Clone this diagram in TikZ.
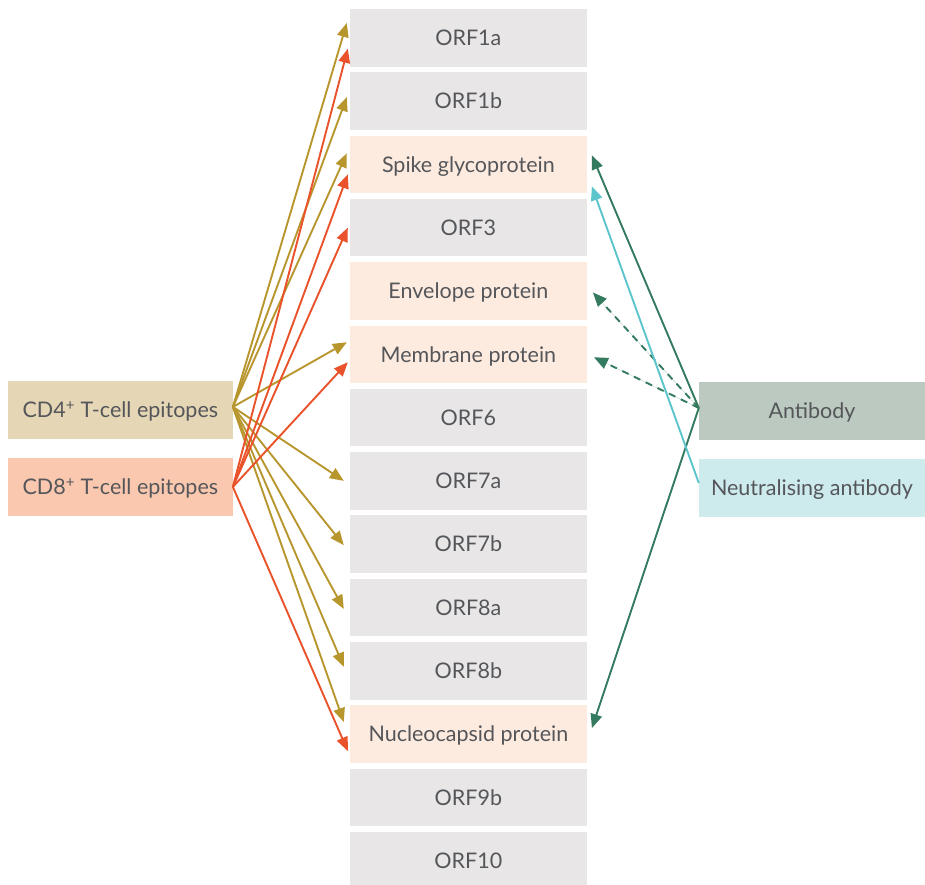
\documentclass[tikz,border=0pt]{standalone}
\usepackage{fontspec}
\setmainfont{Lato}
\usetikzlibrary{arrows.meta,calc}
\definecolor{txt}{HTML}{55565A}
\definecolor{grayb}{HTML}{E8E6E7}
\definecolor{peach}{HTML}{FDEBDF}
\definecolor{cdfour}{HTML}{E5D7B5}
\definecolor{cdeight}{HTML}{F9C8AF}
\definecolor{abfill}{HTML}{BCC9C0}
\definecolor{nabfill}{HTML}{CDEAEC}
\definecolor{gold}{HTML}{B8962E}
\definecolor{redar}{HTML}{E9522A}
\definecolor{dgreen}{HTML}{347A5E}
\definecolor{cyanar}{HTML}{5BC5CB}
\tikzset{
  protbox/.style={rectangle, inner sep=0pt, minimum width=236.7pt, minimum height=57.5pt,
    font=\fontsize{21.5}{24}\selectfont, text=txt, text height=15.5pt, text depth=0pt},
  greybox/.style={protbox, fill=grayb},
  peachbox/.style={protbox, fill=peach},
  sidebox/.style={rectangle, inner sep=0pt, minimum width=225pt, minimum height=57.5pt,
    font=\fontsize{21.5}{24}\selectfont, text=txt, text height=15.5pt, text depth=0pt},
  conn/.style={line width=1.9pt, -{Triangle[length=14pt,width=11.5pt]}},
  goldarrow/.style={conn, draw=gold, fill=gold},
  redarrow/.style={conn, draw=redar, fill=redar},
  greenarrow/.style={conn, draw=dgreen, fill=dgreen},
  cyanarrow/.style={conn, draw=cyanar, fill=cyanar},
  dasharrow/.style={conn, draw=dgreen, fill=dgreen, dash pattern=on 7pt off 6pt},
}
\begin{document}
\begin{tikzpicture}[x=1pt,y=-1pt]
\useasboundingbox (0,0) rectangle (925,884);
\clip (0,0) rectangle (925,884);
% central column
\node[greybox]  (orf1a) at (468.35, 37.75) {ORF1a};
\node[greybox]  (orf1b) at (468.35, 101.05) {ORF1b};
\node[peachbox] (spike) at (468.35, 164.35) {Spike glycoprotein};
\node[greybox]  (orf3)  at (468.35, 227.65) {ORF3};
\node[peachbox] (env)   at (468.35, 290.95) {Envelope protein};
\node[peachbox] (mem)   at (468.35, 354.25) {Membrane protein};
\node[greybox]  (orf6)  at (468.35, 417.55) {ORF6};
\node[greybox]  (orf7a) at (468.35, 480.85) {ORF7a};
\node[greybox]  (orf7b) at (468.35, 544.15) {ORF7b};
\node[greybox]  (orf8a) at (468.35, 607.45) {ORF8a};
\node[greybox]  (orf8b) at (468.35, 670.75) {ORF8b};
\node[peachbox] (nuc)   at (468.35, 734.05) {Nucleocapsid protein};
\node[greybox]  (orf9b) at (468.35, 797.35) {ORF9b};
\node[greybox]  (orf10) at (468.35, 860.65) {ORF10};
% side boxes
\node[sidebox, fill=cdfour, minimum width=224.7pt] (cd4) at (120.35, 409.9) {CD4\textsuperscript{+} T-cell epitopes};
\node[sidebox, fill=cdeight, minimum width=224.7pt] (cd8) at (120.35, 486.9) {CD8\textsuperscript{+} T-cell epitopes};
\node[sidebox, fill=abfill, minimum width=226pt] (ab) at (812, 411) {Antibody};
\node[sidebox, fill=nabfill, minimum width=226pt] (nab) at (812, 488) {Neutralising antibody};
% source points
\coordinate (s4) at ([yshift=3pt]cd4.east);
\coordinate (s8) at (cd8.east);
\coordinate (sab) at ([yshift=3pt]ab.west);
\coordinate (snab) at ([yshift=5pt]nab.west);
% CD4 arrows
\draw[goldarrow] (s4) -- ([xshift=-3pt,yshift=14.75pt]orf1a.west);
\draw[goldarrow] (s4) -- ([xshift=-3pt,yshift=4pt]orf1b.west);
\draw[goldarrow] (s4) -- ([xshift=-3pt,yshift=11pt]spike.west);
\draw[goldarrow] (s4) -- ([xshift=-3pt,yshift=12pt]mem.west);
\draw[goldarrow] (s4) -- ([xshift=-6pt,yshift=0pt]orf7a.west);
\draw[goldarrow] (s4) -- ([xshift=-6pt,yshift=-1pt]orf7b.west);
\draw[goldarrow] (s4) -- ([xshift=-6pt,yshift=-1.5pt]orf8a.west);
\draw[goldarrow] (s4) -- ([xshift=-6pt,yshift=4pt]orf8b.west);
\draw[goldarrow] (s4) -- ([xshift=-6pt,yshift=12pt]nuc.west);
% CD8 arrows
\draw[redarrow] (s8) -- ([xshift=-2pt,yshift=-11pt]orf1a.west);
\draw[redarrow] (s8) -- ([xshift=-2pt,yshift=-10pt]spike.west);
\draw[redarrow] (s8) -- ([xshift=-2pt,yshift=0pt]orf3.west);
\draw[redarrow] (s8) -- ([xshift=-2pt,yshift=-8pt]mem.west);
\draw[redarrow] (s8) -- ([xshift=-2pt,yshift=-17pt]nuc.west);
% antibody arrows
\draw[greenarrow] (sab) -- ([xshift=5pt,yshift=9pt]spike.east);
\draw[greenarrow] (sab) -- ([xshift=5pt,yshift=6pt]nuc.east);
\draw[dasharrow] (sab) -- ([xshift=6pt,yshift=-1.5pt]env.east);
\draw[dasharrow] (sab) -- ([xshift=7pt,yshift=-3pt]mem.east);
\draw[cyanarrow] (snab) -- ([xshift=5pt,yshift=-22pt]spike.east);
\end{tikzpicture}
\end{document}
